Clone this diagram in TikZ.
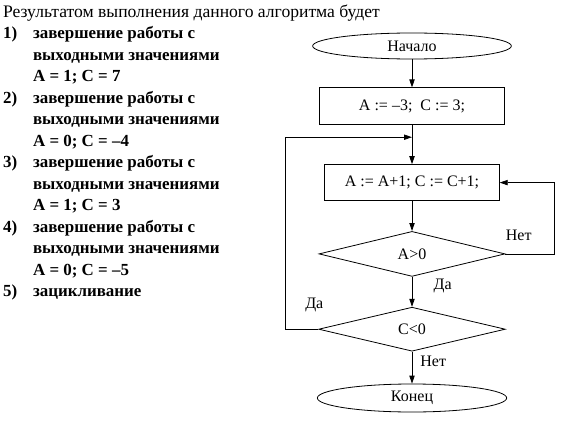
\documentclass[tikz,border=0pt]{standalone}
\usepackage{fontspec}
\setmainfont{Liberation Serif}
\usetikzlibrary{arrows.meta, positioning, shapes.geometric}

\begin{document}
\begin{tikzpicture}[>={Triangle[length=6pt,width=4pt]}, line width=0.6pt,
  font=\fontsize{12}{15.75}\selectfont,
  term/.style={draw, ellipse, inner sep=0pt, text centered},
  block/.style={draw, rectangle, inner sep=0pt, text centered},
  decision/.style={draw, diamond, inner sep=0pt, text centered},
  lbl/.style={inner sep=1pt}]

  \useasboundingbox (0,0) rectangle (422.25pt,-323.25pt);

  % Условие и варианты ответов
  \node[anchor=north west, inner sep=0pt, align=left, font=\fontsize{12.7}{16.1}\selectfont\bfseries] (answers) at (2pt,-1.5pt) {%
    \begin{tabular}{@{}p{22.5pt}@{}l@{}}
      \multicolumn{2}{@{}l@{}}{\mdseries\fontsize{13.2}{16.1}\selectfont Результатом выполнения данного алгоритма будет}\\
      1) & завершение работы с\\
         & выходными значениями\\
         & A = 1; C = 7\\
      2) & завершение работы с\\
         & выходными значениями\\
         & A = 0; C = –4\\
      3) & завершение работы с\\
         & выходными значениями\\
         & A = 1; C = 3\\
      4) & завершение работы с\\
         & выходными значениями\\
         & A = 0; C = –5\\
      5) & зацикливание
    \end{tabular}};

  % Блок-схема
  \node[term, minimum width=149pt, minimum height=19.5pt] (start) at (309pt,-34.5pt) {Начало};
  \node[block, minimum width=139pt, minimum height=27.75pt, below=21pt of start] (init) {A := –3;\ \ C := 3;};
  \node[block, minimum width=131pt, minimum height=27pt, below=29.25pt of init] (inc) {A := A+1; C := C+1;};
  \node[decision, minimum width=139.5pt, minimum height=33.75pt, below=22.5pt of inc] (apos) {A>0};
  \node[decision, minimum width=140pt, minimum height=33pt, below=22.5pt of apos] (cneg) {C<0};
  \node[term, minimum width=142pt, minimum height=21pt, below=24pt of cneg] (stop) {Конец};
  \coordinate[below=9pt of init] (join);

  % Основные связи
  \draw[->] (start) -- (init);
  \draw[->] (init) -- (inc);
  \draw[->] (inc) -- (apos);
  \draw[->] (apos) -- node[lbl, pos=0.3, right=15pt] (da1) {Да} (cneg);
  \draw[->] (cneg) -- node[lbl, pos=0.3, right=5pt] (net2) {Нет} (stop);

  % Циклы
  \draw[->] (apos.east) -- ++(36.75pt,0) |- (inc.east);
  \node[lbl] (net1) at ([shift={(10pt,14pt)}]apos.east) {Нет};
  \draw[->] (cneg.west) -- ++(-24.75pt,0) |- (join);
  \node[lbl] (da2) at ([shift={(-3pt,18pt)}]cneg.west) {Да};
\end{tikzpicture}
\end{document}
